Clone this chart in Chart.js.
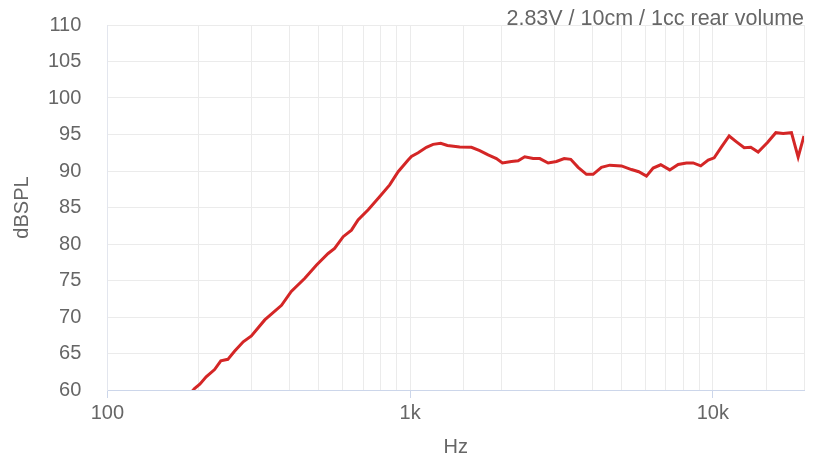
<!DOCTYPE html>
<html>
<head>
<meta charset="utf-8">
<script src="https://cdn.jsdelivr.net/npm/chart.js@4.4.1/dist/chart.umd.min.js"></script>
<style>
  html, body { margin: 0; padding: 0; background: #fff; }
  #wrap { width: 821px; height: 460px; }
</style>
</head>
<body>
<div id="wrap"><canvas id="fr"></canvas></div>
<script>
// frequency response
var freqs = [185, 194, 202, 212, 226, 237, 250, 263, 281, 299, 331, 376, 405, 449, 490, 536, 563, 601, 640, 673,
  727, 794, 856, 913, 985, 1010, 1063, 1132, 1191, 1262, 1328, 1458, 1594, 1698, 1810, 1928, 2018, 2161, 2274, 2391,
  2549, 2681, 2857, 3043, 3228, 3393, 3589, 3823, 4023, 4285, 4565, 4991, 5384, 5691, 6035, 6350, 6728, 7205, 7681, 8180,
  8608, 9120, 9650, 10100, 10680, 11320, 11970, 12690, 13340, 14110, 15150, 16140, 17070, 18180, 19130, 20000];
var spl = [59.2, 60.2, 60.8, 61.8, 62.8, 64.0, 64.2, 65.3, 66.6, 67.4, 69.6, 71.6, 73.5, 75.3, 77.1, 78.7, 79.4, 81.0, 81.9, 83.3,
  84.7, 86.5, 88.1, 89.9, 91.5, 92.0, 92.5, 93.25, 93.65, 93.8, 93.5, 93.3, 93.25, 92.8, 92.2, 91.7, 91.1, 91.3, 91.4, 91.95,
  91.7, 91.7, 91.1, 91.3, 91.7, 91.6, 90.5, 89.55, 89.55, 90.5, 90.8, 90.7, 90.2, 89.9, 89.3, 90.4, 90.85, 90.15, 90.9, 91.1,
  91.1, 90.7, 91.5, 91.8, 93.3, 94.8, 94.0, 93.2, 93.25, 92.6, 93.9, 95.25, 95.15, 95.25, 91.9, 94.8];
var majorLabels = { 100: '100', 1000: '1k', 10000: '10k' };
var yTicks = [60, 65, 70, 75, 80, 85, 90, 95, 100, 105, 110];

var points = freqs.map(function (f, i) { return { x: f, y: spl[i] }; });
var grey = '#666';
var axisBlue = '#ccd6ea';

var ctx = document.getElementById('fr').getContext('2d');
var chart = new Chart(ctx, {
  type: 'line',
  data: {
    datasets: [{
      label: 'SPL',
      data: points,
      borderColor: '#d42626',
      borderWidth: 3,
      pointRadius: 0,
      fill: false,
      tension: 0
    }]
  },
  options: {
    responsive: true,
    maintainAspectRatio: false,
    animation: false,
    layout: { padding: { left: 6, right: 17, top: 0, bottom: 0 } },
    plugins: {
      legend: { display: false },
      tooltip: { enabled: false },
      title: {
        display: true,
        text: '2.83V / 10cm / 1cc rear volume',
        align: 'end',
        color: grey,
        font: { family: 'Liberation Sans', size: 21.5, weight: 'normal' },
        // title box overlaps the top of the plot a little, like the original
        padding: { top: 6, bottom: -6.8 }
      }
    },
    scales: {
      x: {
        type: 'logarithmic',
        min: 100,
        max: 20000,
        title: { display: true, text: 'Hz', color: grey, font: { family: 'Liberation Sans', size: 20 }, padding: { top: 7, bottom: 1 } },
        border: { color: axisBlue },
        grid: {
          color: '#ebebeb',
          tickLength: 8,
          tickColor: function (c) { return majorLabels[c.tick && c.tick.value] ? axisBlue : 'rgba(0,0,0,0)'; }
        },
        ticks: {
          autoSkip: false,
          maxRotation: 0,
          padding: 3,
          color: grey,
          font: { family: 'Liberation Sans', size: 20 },
          callback: function (v) { return majorLabels[v] || ''; }
        }
      },
      y: {
        min: 60,
        max: 110,
        afterBuildTicks: function (axis) { axis.ticks = yTicks.map(function (v) { return { value: v }; }); },
        title: { display: true, text: 'dBSPL', color: grey, font: { family: 'Liberation Sans', size: 20 } },
        border: { color: '#e3e6ee' },
        grid: { color: '#ebebeb', tickLength: 16, tickColor: 'rgba(0,0,0,0)' },
        ticks: {
          color: grey,
          padding: 10,
          font: { family: 'Liberation Sans', size: 20 }
        }
      }
    }
  }
});
</script>
</body>
</html>
